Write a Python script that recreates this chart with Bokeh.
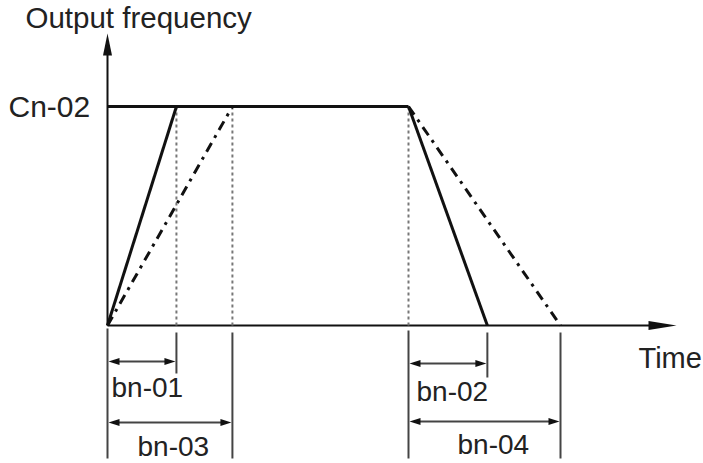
from bokeh.plotting import figure
from bokeh.models import Range1d
from bokeh.core.properties import value
from bokeh.embed import file_html
from bokeh.resources import INLINE

# ---- data (time in s, frequency in % of Cn-02) ----
cn02 = 100.0          # maximum output frequency level
bn01 = 2.29           # accel time 1
bn03 = 4.15           # accel time 2
t_dec = 10.0          # start of deceleration
bn02 = 2.62           # decel time 1
bn04 = 5.05           # decel time 2

level_label = "Cn-02"
y_title = "Output frequency"
x_title = "Time"
dim_labels = ["bn-01", "bn-03", "bn-02", "bn-04"]

# ---- layout helpers (page pixel -> data) ----
SX = 30.1   # px per second
SY = 2.19   # px per %
X0, Y0 = 107, 325  # page position of origin


def T(px):
    return (px - X0) / SX


def F(py):
    return (Y0 - py) / SY


W, H = 703, 463
p = figure(width=W, height=H, output_backend="svg", toolbar_location=None,
           x_range=Range1d(T(0), T(W)), y_range=Range1d(F(H), F(0)),
           x_axis_type=None, y_axis_type=None, min_border=0)
p.grid.visible = False
p.outline_line_color = None
p.background_fill_color = "white"
p.border_fill_color = "white"

FONT = value("Liberation Sans")
INK = "#111111"
GRAY = "#444444"


def head(tip_t, tip_f, dx, dy, L, Wd, color):
    # dx,dy: unit direction in screen px (dy positive = down)
    tx, ty = X0 + tip_t * SX, Y0 - tip_f * SY
    bx, by = tx - dx * L, ty - dy * L
    nx, ny = -dy, dx
    xs = [tx, bx + nx * Wd / 2, bx - nx * Wd / 2]
    ys = [ty, by + ny * Wd / 2, by - ny * Wd / 2]
    p.patch([T(x) for x in xs], [F(y) for y in ys], color=color, line_width=0)


# axes
p.line([0, 0], [0, F(50)], line_color=INK, line_width=2)
head(0, F(33), 0, -1, 22, 9, INK)
p.line([0, T(655)], [0, 0], line_color=INK, line_width=2)
head(T(676), 0, 1, 0, 28, 9, INK)

# dotted guides
for t in [bn01, bn03, t_dec]:
    p.line([t, t], [0, cn02], line_color="#777777", line_width=2, line_dash="3 3")

# solid profile
p.line([0, t_dec], [cn02, cn02], line_color=INK, line_width=3)
p.line([0, bn01], [0, cn02], line_color=INK, line_width=3)
p.line([t_dec, t_dec + bn02], [cn02, 0], line_color=INK, line_width=3)

# dash-dot profile
p.line([0, bn03], [0, cn02], line_color=INK, line_width=3, line_dash="10 6 3 6")
p.line([t_dec, t_dec + bn04], [cn02, 0], line_color=INK, line_width=3, line_dash="10 6 3 6")

# dimension extension lines
ext = [(0, 328, 458), (bn01, 332, 373), (bn03, 332, 458),
       (t_dec, 330, 458), (t_dec + bn02, 332, 377), (t_dec + bn04, 332, 458)]
for t, y1, y2 in ext:
    p.line([t, t], [F(y1), F(y2)], line_color=GRAY, line_width=2)

# dimension arrows
dims = [(0, bn01, 361), (0, bn03, 422), (t_dec, t_dec + bn02, 363), (t_dec, t_dec + bn04, 421)]
for a, b, y in dims:
    p.line([a + T(X0 + 6), b - T(X0 + 6)], [F(y), F(y)], line_color=GRAY, line_width=2)
    head(a + T(X0 + 1), F(y), -1, 0, 11, 7, INK)
    head(b - T(X0 + 1), F(y), 1, 0, 11, 7, INK)

# texts
def txt(x, y, s, align="left", baseline="middle", size="28px"):
    p.text([x], [y], text=[s], text_font=FONT, text_font_size=size,
           text_color="#222222", text_align=align, text_baseline=baseline)


txt(T(25), F(17), y_title, size="29.5px")
txt(T(8), cn02, level_label, size="30px")
txt(T(638), F(357), x_title, size="29px")
txt(T(111), F(387), dim_labels[0])
txt(T(137), F(446), dim_labels[1])
txt(T(416), F(391), dim_labels[2])
txt(T(457), F(444), dim_labels[3])

open("out.html", "w").write(file_html(p, INLINE))
